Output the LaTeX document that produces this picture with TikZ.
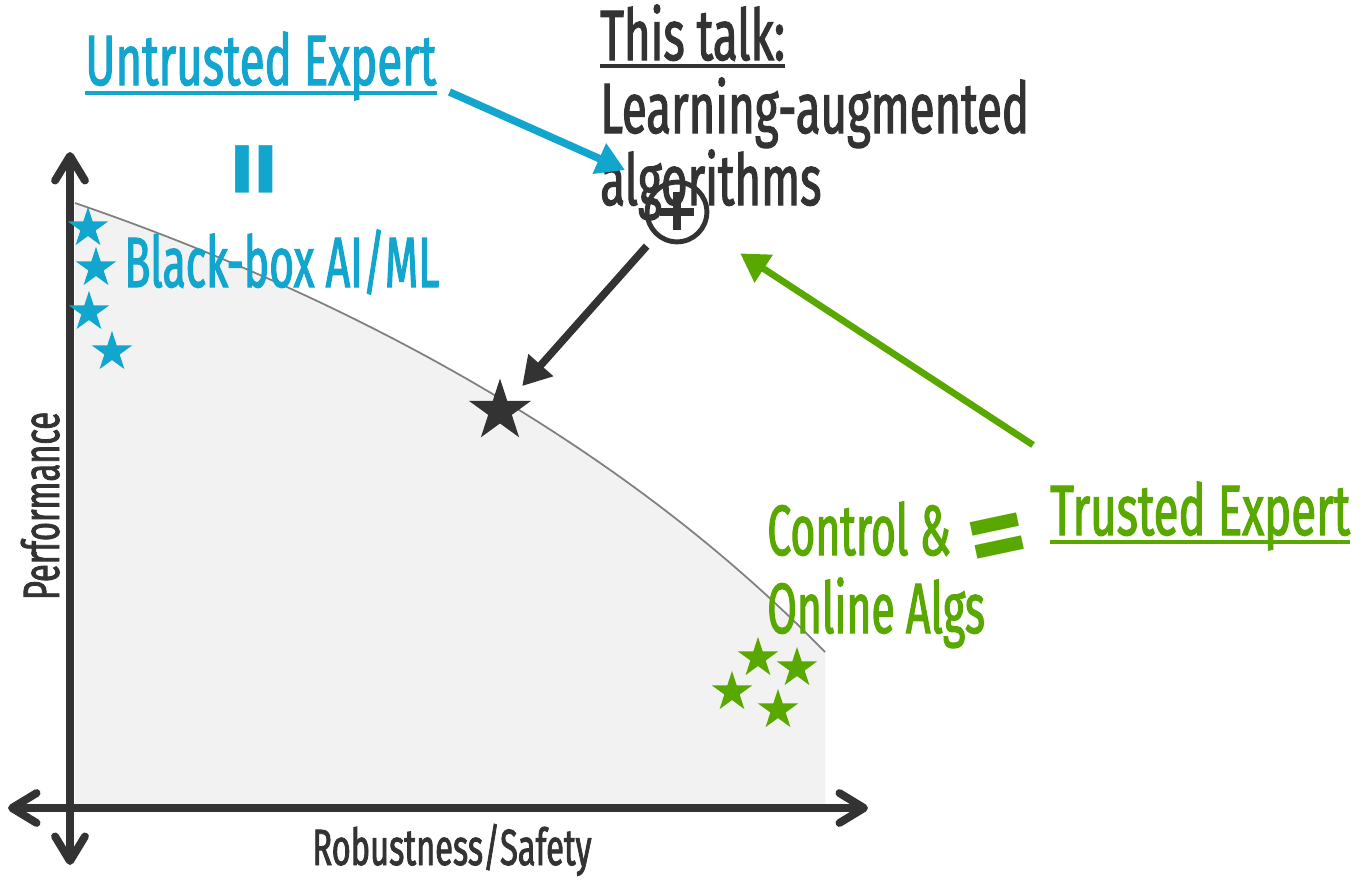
\documentclass[tikz,border=0pt]{standalone}
\usepackage{fontspec}
\setmainfont{Fira Sans}[FakeStretch=0.64, FakeBold=1.6]
\newfontfamily\symfont{Fira Sans}
\usetikzlibrary{shapes.geometric, arrows.meta, calc}
\definecolor{aiblue}{RGB}{18,165,205}
\definecolor{trustgreen}{RGB}{88,168,0}
\definecolor{talkdark}{RGB}{51,51,51}
\definecolor{regiongray}{RGB}{242,242,242}
\definecolor{frontiergray}{RGB}{128,128,128}

\begin{document}
\begin{tikzpicture}[
    x=0.02cm, y=-0.02cm,
    headtxt/.style={inner sep=0pt, anchor=base west, font=\fontsize{40.5}{44}\selectfont},
    narrowtxt/.style={headtxt, font=\fontsize{40.5}{44}\selectfont\addfontfeatures{FakeStretch=0.6}},
    axistxt/.style={inner sep=0pt, anchor=base, text=talkdark, font=\fontsize{29}{32}\selectfont},
    eqsign/.style={inner sep=0pt, font=\symfont\bfseries\fontsize{64}{64}\selectfont},
    starmark/.style={star, star points=5, star point ratio=2.618, inner sep=0pt, minimum size=24pt},
    uline/.style={line width=2.6pt},
    axisline/.style={line width=4.5pt, talkdark,
        {Straight Barb[length=14pt,width=17pt,round]}-{Straight Barb[length=14pt,width=17pt,round]}},
    pointer/.style={line width=4.3pt, -{Triangle[length=16pt,width=18pt]}}
]
    \useasboundingbox (0,0) rectangle (1365,879);

    % Region under the frontier
    \fill[regiongray] (75,203) .. controls (300,280) and (600,420) .. (825,652)
        -- (825,808) -- (75,808) -- cycle;
    \draw[frontiergray, line width=1pt] (75,203) .. controls (300,280) and (600,420) .. (825,652);

    % Axes
    \coordinate (yTop) at (70,152);
    \coordinate (yBot) at (70,865);
    \coordinate (xLeft) at (8,808);
    \coordinate (xRight) at (868,808);
    \draw[axisline] (yBot) -- (yTop);
    \draw[axisline] (xLeft) -- (xRight);
    \node[axistxt] (rob) at (452,865) {Robustness/Safety};
    \node[axistxt, rotate=90] (perf) at (59,506) {Performance};

    % Stars
    \node[starmark, fill=aiblue] (bb1) at (88,228) {};
    \node[starmark, fill=aiblue] (bb2) at (96,268) {};
    \node[starmark, fill=aiblue] (bb3) at (89,312) {};
    \node[starmark, fill=aiblue] (bb4) at (112,352) {};
    \node[starmark, fill=trustgreen] (ol1) at (758,658) {};
    \node[starmark, fill=trustgreen] (ol2) at (797,668) {};
    \node[starmark, fill=trustgreen] (ol3) at (732,692) {};
    \node[starmark, fill=trustgreen] (ol4) at (778,710) {};
    \node[starmark, fill=talkdark, minimum size=37pt] (bstar) at (500,411) {};

    % Untrusted side
    \node[headtxt, text=aiblue] (ue) at (85,85) {Untrusted Expert};
    \draw[uline, aiblue] ($(ue.base west)+(0,8)$) -- ($(ue.base east)+(0,8)$);
    \node[eqsign, text=aiblue, rotate=90] (ueq) at (264,169) {=};
    \node[narrowtxt, text=aiblue] (bb) at (124,287) {Black-box AI/ML};

    % This talk
    \node[headtxt, text=talkdark] (tt) at (600,60) {This talk:};
    \draw[uline, talkdark] ($(tt.base west)+(0,6)$) -- ($(tt.base east)+(0,6)$);
    \node[headtxt, text=talkdark] (la) at (600,133) {Learning-augmented};
    \node[headtxt, text=talkdark] (alg) at (600,205) {algorithms};
    \node[circle, draw=talkdark, line width=2.8pt, minimum size=34pt, inner sep=0pt] (oplus) at (677,212) {};
    \draw[talkdark, line width=4pt] ($(oplus.center)+(0,-20)$) -- ($(oplus.center)+(0,18)$);
    \draw[talkdark, line width=4pt] ($(oplus.center)+(-17,0)$) -- ($(oplus.center)+(17,0)$);

    % Trusted side
    \node[narrowtxt, text=trustgreen] (ctl) at (767,555) {Control \&};
    \node[narrowtxt, text=trustgreen] (onl) at (767,633) {Online Algs};
    \node[eqsign, text=trustgreen, rotate=12] (teq) at (999,545) {=};
    \node[headtxt, text=trustgreen] (te) at (1050,535) {Trusted Expert};
    \draw[uline, trustgreen] ($(te.base west)+(0,7)$) -- ($(te.base east)+(0,7)$);

    % Arrows
    \draw[pointer, aiblue] ([shift={(13,7)}]ue.base east) -- ([shift={(25,-35)}]alg.base west);
    \draw[pointer, talkdark, shorten <=26pt, shorten >=19pt] (oplus.center) -- (bstar.center);
    \draw[pointer, trustgreen, line width=3.8pt, shorten >=43pt] ([shift={(-17,-90)}]te.base west) -- (oplus.center);
\end{tikzpicture}
\end{document}
